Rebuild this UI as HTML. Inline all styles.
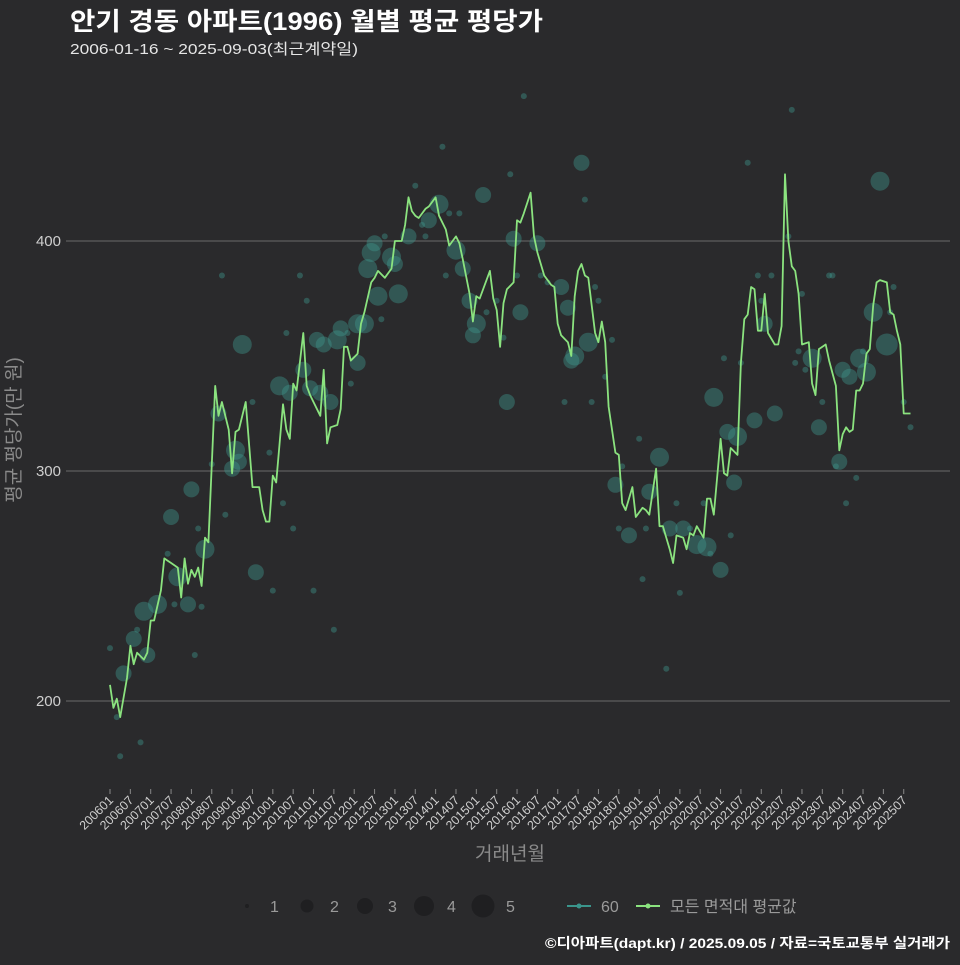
<!DOCTYPE html>
<html><head><meta charset="utf-8">
<style>
html,body{margin:0;padding:0;background:#2a2a2c;}
body{width:960px;height:960px;overflow:hidden;font-family:"Liberation Sans","Noto Sans CJK KR",sans-serif;}
svg text{font-family:"Liberation Sans","Noto Sans CJK KR",sans-serif;}
</style></head>
<body>
<svg id="chart" width="960" height="960" xmlns="http://www.w3.org/2000/svg">
<rect x="0" y="0" width="960" height="960" fill="#2a2a2c"/>
<text x="70" y="30" fill="#ffffff" font-size="25" font-weight="bold" textLength="473" lengthAdjust="spacingAndGlyphs">안기 경동 아파트(1996) 월별 평균 평당가</text>
<text x="70" y="54" fill="#e6e6e6" font-size="15" textLength="288" lengthAdjust="spacingAndGlyphs">2006-01-16 ~ 2025-09-03(최근계약일)</text>
<g id="grid"></g>
<g id="yticks"></g>
<g id="xticks"></g>
<g id="bubbles"></g>
<g id="line"></g>
<text transform="translate(20,430) rotate(-90)" text-anchor="middle" fill="#8a8a8a" font-size="19">평균 평당가(만 원)</text>
<text x="510" y="860" text-anchor="middle" fill="#8a8a8a" font-size="19">거래년월</text>
<g id="legend"></g>
<text x="545" y="948" fill="#ffffff" font-size="14" font-weight="bold" textLength="405" lengthAdjust="spacingAndGlyphs">©디아파트(dapt.kr) / 2025.09.05 / 자료=국토교통부 실거래가</text>
</svg>
<script>
// ---- data ----
const yTicks = [200, 300, 400];
const startYear = 2006;
const lineMonths = [0,1,2,3,5,6,7,8,10,11,12,13,15,16,17,18,20,21,22,23,24,25,26,27,28,29,31,32,33,35,36,37,38,40,42,44,45,46,47,48,49,51,52,53,54,55,57,58,59,62,63,64,65,67,68,69,70,71,73,74,75,77,78,79,81,83,84,86,87,88,89,90,91,93,94,96,97,99,100,102,103,104,106,107,108,109,112,113,114,115,116,117,119,120,121,122,124,125,126,128,130,131,132,133,135,136,137,138,139,140,141,143,144,145,146,147,149,150,151,152,154,155,157,158,159,161,162,163,165,166,167,169,170,171,172,173,175,176,177,178,180,181,182,183,185,186,187,188,189,190,191,192,193,194,196,197,198,199,200,201,202,203,204,206,207,208,209,211,212,214,215,216,217,218,219,220,221,222,223,224,225,226,227,229,230,231,232,233,234,236];
const lineValues = [207,197,201,193,210,224,216,221,218,221,235,235,248,262,261,260,258,245,262,251,257,254,258,250,271,269,337,324,330,318,299,317,318,330,293,293,283,278,278,298,295,329,318,314,338,335,360,337,333,324,344,312,319,320,327,354,354,348,351,364,369,382,384,387,384,388,400,400,407,419,413,411,410,414,415,419,411,405,398,402,399,392,377,365,376,375,387,375,370,354,373,379,382,409,408,412,421,402,395,385,381,380,364,359,356,350,376,387,390,385,384,360,356,365,356,328,308,307,286,283,293,280,284,283,281,301,276,276,266,260,272,271,266,273,272,276,271,288,288,281,314,299,298,310,307,347,366,368,380,379,361,361,377,360,355,355,363,429,400,389,387,377,355,356,338,333,353,355,348,337,309,316,319,317,318,335,335,338,351,353,372,382,383,382,369,368,361,355,325,325];
const bubbleMonths = [0,4,2,3,9,7,8,10,11,14,19,23,27,25,20,17,18,24,26,28,34,30,32,37,38,36,39,42,47,51,54,43,48,60,66,33,56,58,52,50,53,57,59,62,65,61,63,67,68,70,71,73,73,139,118,140,90,110,97,94,100,103,92,93,88,81,78,77,83,84,76,102,104,99,119,126,79,85,75,80,106,108,107,111,114,116,120,121,117,127,129,133,135,141,137,136,134,142,143,144,148,146,156,151,149,150,153,188,227,191,195,212,213,200,204,192,193,231,225,229,230,203,207,202,205,210,216,218,221,223,222,181,186,178,190,196,182,185,209,234,236,162,215,214,184,220,159,158,167,175,165,169,171,173,176,177,183,217,180,157,168,164,122,98,201];
const bubbleValues = [223,212,193,176,182,227,231,239,220,242,242,242,241,220,254,264,280,292,275,266,281,303,325,309,304,301,355,330,308,286,275,256,248,248,231,385,385,374,360,337,334,344,336,334,330,357,355,357,362,360,338,364,347,434,429,418,424,420,416,409,412,412,407,402,402,402,399,395,393,390,388,396,388,385,401,399,376,377,364,366,374,364,359,369,374,358,385,369,330,385,382,380,371,356,350,348,330,330,380,374,357,341,314,302,294,275,272,434,426,385,385,385,385,402,377,374,364,380,369,355,369,352,349,347,344,330,344,341,349,343,352,349,347,332,322,325,317,315,319,330,319,306,304,302,295,297,291,275,286,286,275,275,275,268,267,264,272,286,257,253,247,214,463,441,457];
const bubbleCounts = [1,3,1,1,1,3,1,4,3,4,1,3,1,1,4,1,3,3,1,4,1,1,3,4,3,3,4,1,1,1,1,3,1,1,1,1,1,1,1,4,3,3,3,3,3,3,3,4,3,1,1,4,3,3,1,1,1,3,4,3,1,1,1,1,3,1,3,4,4,3,4,4,3,1,3,3,4,4,4,1,3,4,3,1,1,1,1,3,3,1,1,3,3,4,4,3,1,1,1,1,1,1,1,1,3,1,3,1,4,1,1,1,1,1,1,1,3,1,4,5,1,1,4,1,1,1,3,3,4,4,1,1,1,4,3,3,3,4,3,1,1,4,3,1,3,1,3,1,1,1,3,3,1,4,4,1,1,1,3,1,1,1,1,1,1];
const legendSizes = [1,2,3,4,5];

// ---- scales ----
const NS = 'http://www.w3.org/2000/svg';
function xs(m){ return 110 + m * 3.392; }
function ys(v){ return 701 - (v - 200) * 2.3; }
function rs(n){ return [0,3,6,8,9.5,11][n]; }
function mk(tag, attrs, parent){ const e=document.createElementNS(NS,tag); for(const k in attrs) e.setAttribute(k,attrs[k]); parent.appendChild(e); return e; }

// grid + y ticks
const grid=document.getElementById('grid'), yt=document.getElementById('yticks');
yTicks.forEach(v=>{
  const l=mk('line',{x1:66,x2:950,y1:ys(v),y2:ys(v),stroke:'#6a6a6a','stroke-width':1.1},grid);
  
  
  const t=mk('text',{x:61,y:ys(v)+5,'text-anchor':'end',fill:'#cfcfcf','font-size':15},yt);
  t.textContent=v;
  
  
});

// x ticks
const xt=document.getElementById('xticks');
for(let m=0;m<=234;m+=6){
  const yr=startYear+Math.floor(m/12), mo=(m%12)+1;
  const lab=''+yr+(mo<10?'0':'')+mo;
  const x=xs(m);
  const tk=mk('line',{x1:x,x2:x,y1:789,y2:794,stroke:'#888','stroke-width':1},xt);
  
  
  const t=mk('text',{transform:'translate('+(x+4)+',801) rotate(-45)','text-anchor':'end',fill:'#cfcfcf','font-size':12.5},xt);
  t.textContent=lab;
  
  
}

// bubbles
const bg=document.getElementById('bubbles');
bubbleMonths.forEach((m,i)=>{
  const c=mk('circle',{cx:xs(m),cy:ys(bubbleValues[i]),r:rs(bubbleCounts[i]),fill:'rgba(62,150,140,0.42)'},bg);
  
  
});

// line
const lg=document.getElementById('line');
const pts=lineMonths.map((m,i)=>xs(m).toFixed(1)+','+ys(lineValues[i]).toFixed(1)).join(' ');
const pl=mk('polyline',{points:pts,fill:'none',stroke:'#8be37f','stroke-width':1.8,'stroke-linejoin':'round'},lg);



// legend
const leg=document.getElementById('legend');
const lx=[247,307,365,424,483];
legendSizes.forEach((n,i)=>{
  const c=mk('circle',{cx:lx[i],cy:906,r:[2,6.5,8,10,11.5][i],fill:'#1f1f21'},leg);
  
  
  const t=mk('text',{x:lx[i]+23,y:912,'text-anchor':'start',fill:'#9a9a9a','font-size':16},leg);
  t.textContent=n;
  
  
});
const l1=mk('line',{x1:567,x2:591,y1:906,y2:906,stroke:'#3a958c','stroke-width':2},leg);


const d1=mk('circle',{cx:579,cy:906,r:2.5,fill:'#3a958c'},leg);


const t1=mk('text',{x:601,y:912,fill:'#9a9a9a','font-size':16},leg);
t1.textContent='60';


const l2=mk('line',{x1:636,x2:660,y1:906,y2:906,stroke:'#8be37f','stroke-width':2},leg);


const d2=mk('circle',{cx:648,cy:906,r:2.5,fill:'#8be37f'},leg);


const t2=mk('text',{x:670,y:912,fill:'#9a9a9a','font-size':16},leg);
t2.textContent='모든 면적대 평균값';


</script>
</body></html>
